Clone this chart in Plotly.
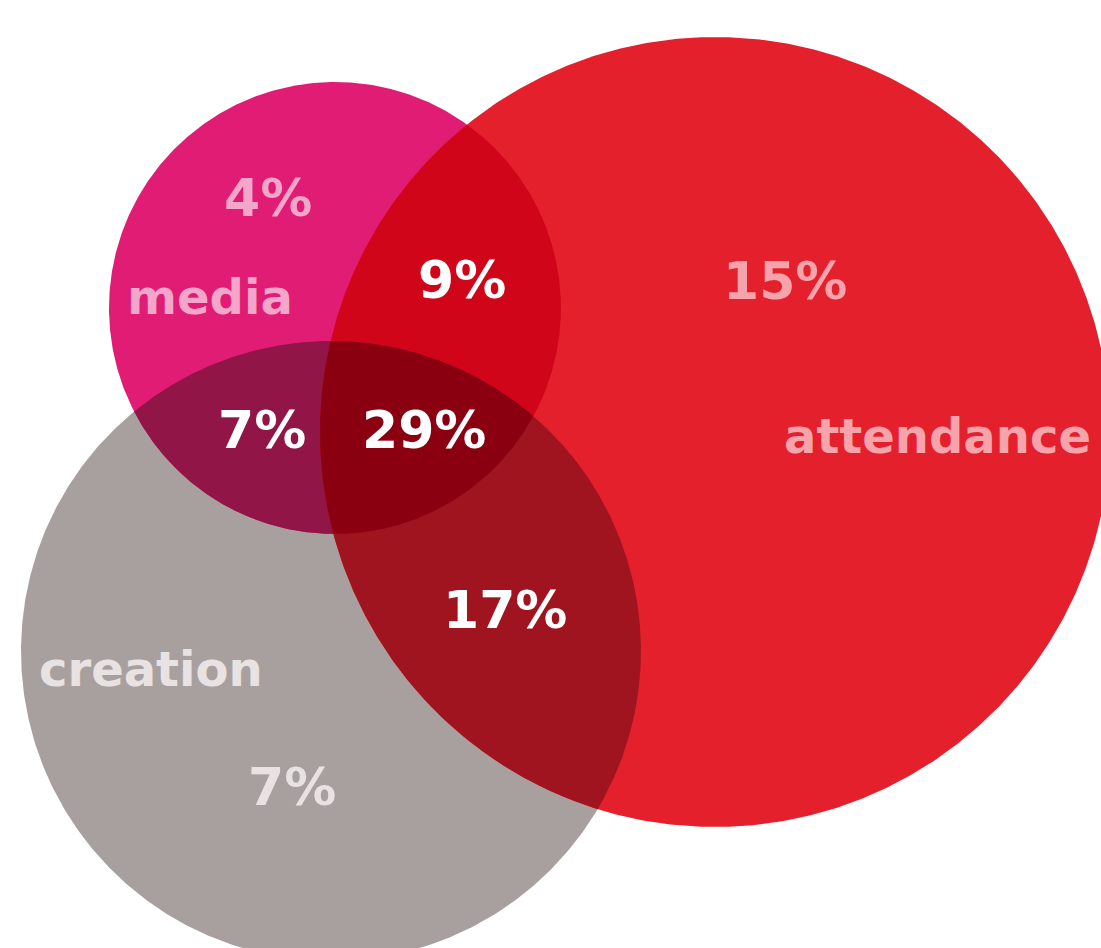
import numpy as np
import plotly.graph_objects as go

# ---- data ----
sets = ["media", "attendance", "creation"]
region_members = [("media",), ("media", "attendance"), ("attendance",),
                  ("media", "creation"), ("media", "attendance", "creation"),
                  ("attendance", "creation"), ("creation",)]
region_values = [4, 9, 15, 7, 29, 17, 7]

# ---- layout (pixel space, y downward) ----
W, H = 1101, 948
circle_geom = {
    "media": (335, 308, 226),
    "attendance": (715, 432, 395),
    "creation": (331, 651, 310),
}
circle_color = {"media": "#E01C74", "attendance": "#E5202D", "creation": "#A8A09F"}
overlap_color = {
    ("media", "creation"): "#911546",
    ("media", "attendance"): "#D0051A",
    ("attendance", "creation"): "#A0141F",
    ("media", "attendance", "creation"): "#8B0011",
}
set_label_pos = {"media": (210, 297), "attendance": (937, 436), "creation": (151, 669)}
set_label_color = {"media": "#F4A5CA", "attendance": "#F7A3AB", "creation": "#E8E3E2"}
value_pos = [(268, 198), (462, 280), (785, 281), (262, 430), (424, 430), (505, 610), (292, 787)]
value_color = ["#F4A5CA", "#FFFFFF", "#F7A3AB", "#FFFFFF", "#FFFFFF", "#FFFFFF", "#E8E3E2"]

FONT = "DejaVu Sans"


def circle_pts(name, n=720):
    cx, cy, r = circle_geom[name]
    t = np.linspace(0, 2 * np.pi, n, endpoint=False)
    return cx + r * np.cos(t), cy + r * np.sin(t)


def inside(x, y, name, tol=0.5):
    cx, cy, r = circle_geom[name]
    return (x - cx) ** 2 + (y - cy) ** 2 <= (r + tol) ** 2


def intersection_poly(names):
    xs, ys = [], []
    for nm in names:
        x, y = circle_pts(nm, 2000)
        mask = np.ones_like(x, dtype=bool)
        for other in names:
            if other != nm:
                mask &= inside(x, y, other)
        xs.append(x[mask])
        ys.append(y[mask])
    x = np.concatenate(xs)
    y = np.concatenate(ys)
    cx, cy = x.mean(), y.mean()
    order = np.argsort(np.arctan2(y - cy, x - cx))
    x, y = x[order], y[order]
    return np.append(x, x[0]), np.append(y, y[0])


fig = go.Figure()

for nm in ["creation", "media", "attendance"]:
    x, y = circle_pts(nm)
    fig.add_trace(go.Scatter(x=np.append(x, x[0]), y=np.append(y, y[0]), mode="lines",
                             fill="toself", fillcolor=circle_color[nm],
                             line=dict(width=0, color=circle_color[nm]),
                             hoverinfo="skip", showlegend=False))

for key in [("media", "creation"), ("media", "attendance"), ("attendance", "creation"),
            ("media", "attendance", "creation")]:
    x, y = intersection_poly(key)
    fig.add_trace(go.Scatter(x=x, y=y, mode="lines", fill="toself",
                             fillcolor=overlap_color[key],
                             line=dict(width=0, color=overlap_color[key]),
                             hoverinfo="skip", showlegend=False))

annotations = []
for nm in sets:
    x, y = set_label_pos[nm]
    annotations.append(dict(x=x, y=y, text=nm, showarrow=False, xanchor="center", yanchor="middle",
                            font=dict(family=FONT, size=48, color=set_label_color[nm], weight="bold")))
for val, (x, y), col in zip(region_values, value_pos, value_color):
    annotations.append(dict(x=x, y=y, text=f"{val}%", showarrow=False, xanchor="center", yanchor="middle",
                            font=dict(family=FONT, size=52, color=col, weight="bold")))

fig.update_layout(
    width=W, height=H, margin=dict(l=0, r=0, t=0, b=0),
    paper_bgcolor="white", plot_bgcolor="white",
    xaxis=dict(range=[0, W], visible=False, fixedrange=True),
    yaxis=dict(range=[H, 0], visible=False, fixedrange=True),
    annotations=annotations, showlegend=False,
)

fig.write_html("out.html")
